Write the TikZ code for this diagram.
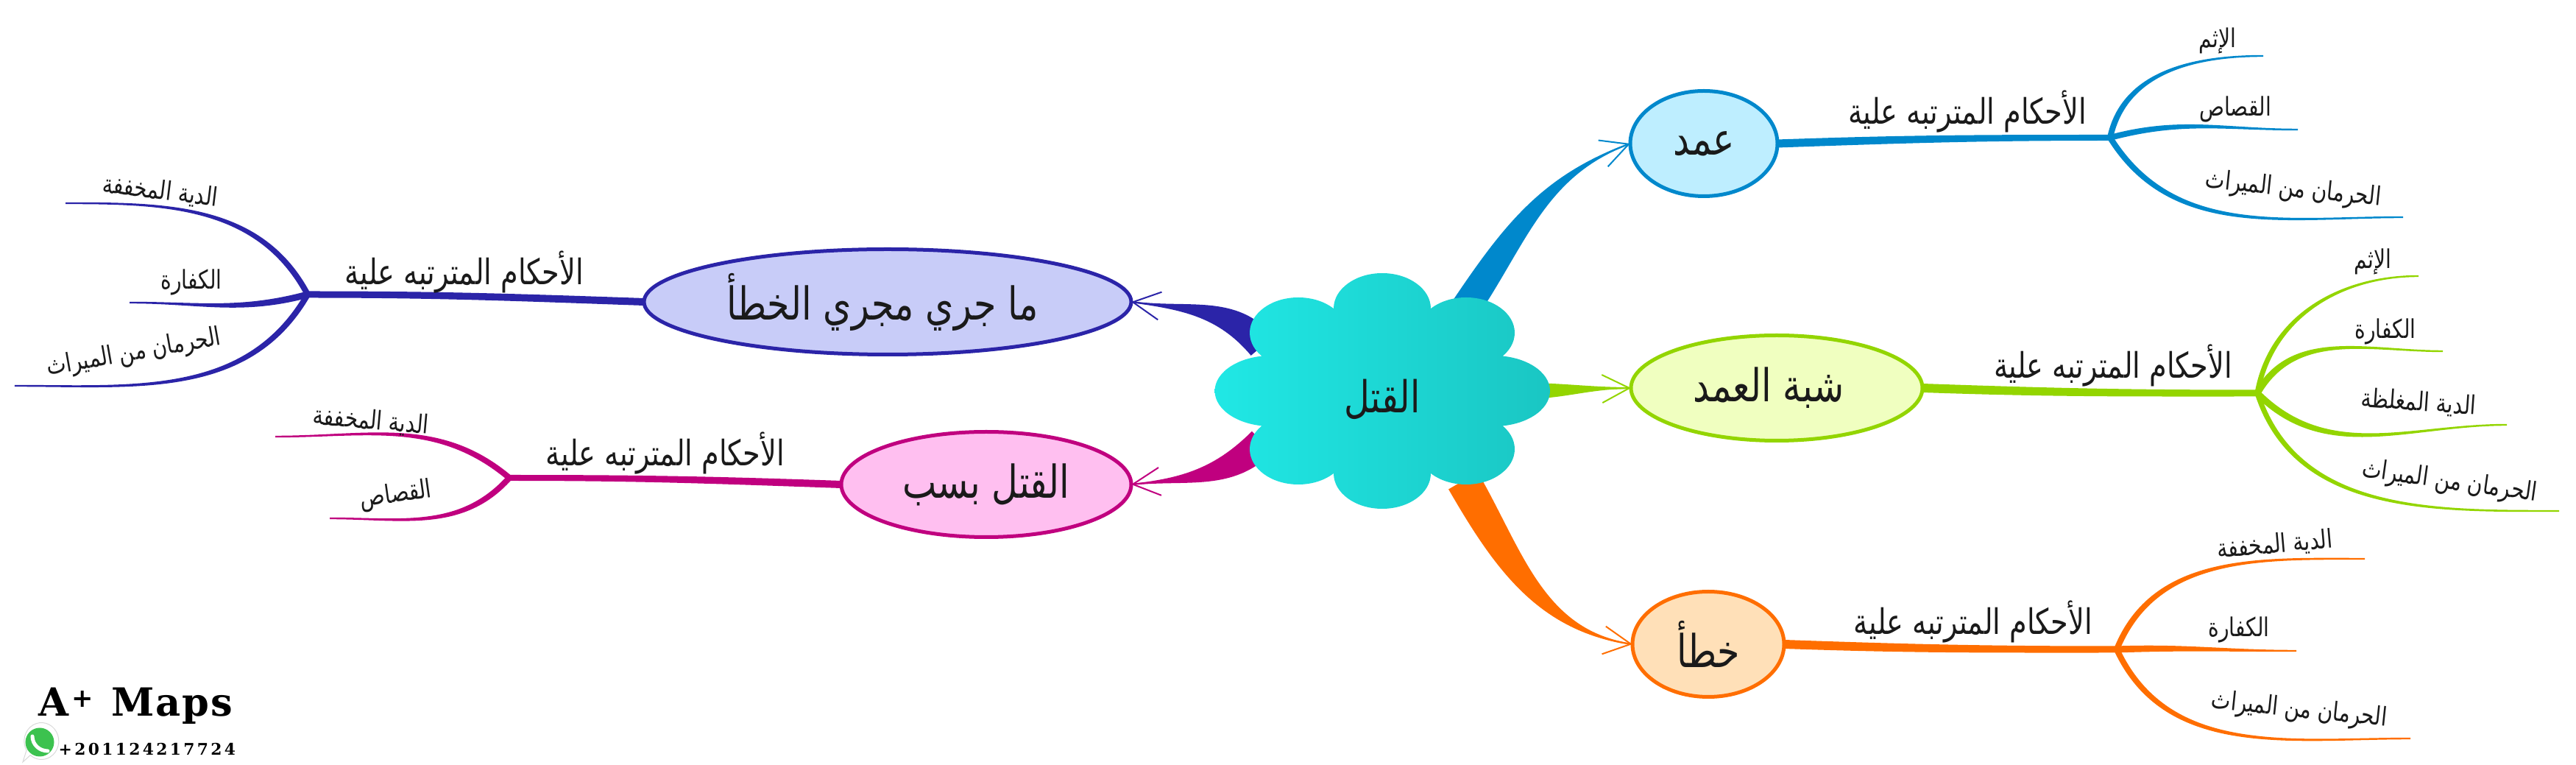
\documentclass[tikz,border=0pt]{standalone}
\usepackage{fontspec}
\usepackage{xcolor}
\usepackage{tikz}
\usetikzlibrary{shapes.geometric,arrows.meta,calc,backgrounds}
\TeXXeTstate=1
\newfontfamily\arabicfont[Script=Arabic,FakeStretch=0.8]{DejaVu Sans}
\newfontfamily\logofont{DejaVu Serif}
\definecolor{inktxt}{HTML}{1A1A1A}
\definecolor{blauk}{HTML}{0088CC}
\definecolor{blauf}{HTML}{BEEEFF}
\definecolor{gruenk}{HTML}{93D500}
\definecolor{gruenf}{HTML}{F0FFC0}
\definecolor{orangek}{HTML}{FF6E00}
\definecolor{orangef}{HTML}{FFE0B8}
\definecolor{navyk}{HTML}{2B24A8}
\definecolor{navyf}{HTML}{C8CCF8}
\definecolor{pinkk}{HTML}{C0007F}
\definecolor{pinkf}{HTML}{FFBFF0}
\definecolor{cloudl}{HTML}{20E8E5}
\definecolor{cloudm}{HTML}{1DDCD9}
\definecolor{cloudr}{HTML}{1AC6C3}
\definecolor{wagreen}{HTML}{3CC24F}
\tikzset{
  topic/.style={ellipse, draw=#1k, fill=#1f, line width=0.05cm, inner sep=0pt, outer sep=0pt, minimum height=1.43cm, align=center, text=inktxt, font=\fontsize{17.5}{17.5}\selectfont},
  rootlabel/.style={inner sep=0pt, text=inktxt, font=\fontsize{17}{17}\selectfont},
  tlabel/.style={inner sep=0pt, text=inktxt, font=\fontsize{13.6}{14}\selectfont},
  llabel/.style={inner sep=0pt, text=inktxt, font=\fontsize{10}{10}\selectfont},
  barb/.style={draw=#1k, line width=0.02cm, -{Straight Barb[length=3.7mm,width=3.8mm]}}
}
\newcommand{\artxt}[1]{{\arabicfont\beginR #1\endR}}
\newcommand{\taper}[7]{\fill[#1] ($(#2)+(#4+90:#6)$) to[out=#4,in=#5] ($(#3)+(#5-90:#7)$) -- ($(#3)+(#5+90:#7)$) to[out=#5,in=#4] ($(#2)+(#4-90:#6)$) -- cycle;}

\begin{document}
\begin{tikzpicture}
\useasboundingbox (0,0) rectangle (35,10.39);

\node[rootlabel] (root) at (18.78,4.97) {\artxt{القتل}};

\node[topic=blau, minimum width=2.0cm] (amd) at ($(root)+(4.37,3.47)$) {\artxt{عمد}};
\node[topic=gruen, minimum width=3.96cm] (shuba) at ($(root)+(5.36,0.15)$) {\artxt{شبة العمد}\hspace*{0.22cm}};
\node[topic=orange, minimum width=2.06cm] (khata) at ($(root)+(4.43,-3.33)$) {\artxt{خطأ}};
\node[topic=navy, minimum width=6.62cm] (majri) at ($(root)+(-6.72,1.32)$) {\artxt{ما جري مجري الخطأ}\hspace*{0.14cm}};
\node[topic=pink, minimum width=3.94cm] (sabab) at ($(root)+(-5.38,-1.16)$) {\artxt{القتل بسب}};

\coordinate (rootamd) at ($(root)+(1.12,1.22)$);
\coordinate (rootshuba) at ($(root)+(1.9,0.11)$);
\coordinate (rootkhata) at ($(root)+(1.1,-1.11)$);
\coordinate (rootmajri) at ($(root)+(-1.63,0.72)$);
\coordinate (rootsabab) at ($(root)+(-1.63,-0.58)$);

% amd
\coordinate (famd) at ($(amd)+(5.52,0.08)$);
\node[tlabel] at ($(famd)+(-1.94,0.35)$) {\artxt{الأحكام المترتبه علية}};
\coordinate (amd1) at ($(famd)+(2.08,1.11)$);
\coordinate (amd2) at ($(famd)+(2.55,0.11)$);
\coordinate (amd3) at ($(famd)+(3.98,-1.08)$);
\node[llabel] at ($(famd)+(1.46,1.32)$) {\artxt{الإثم}};
\node[llabel] at ($(famd)+(1.70,0.39)$) {\artxt{القصاص}};
\node[llabel, rotate=-6] at ($(famd)+(2.49,-0.71)$) {\artxt{الحرمان من الميراث}};

% shuba
\coordinate (fshuba) at ($(shuba)+(6.53,-0.07)$);
\node[tlabel] at ($(fshuba)+(-1.96,0.37)$) {\artxt{الأحكام المترتبه علية}};
\coordinate (shuba1) at ($(fshuba)+(2.19,1.59)$);
\coordinate (shuba2) at ($(fshuba)+(2.52,0.57)$);
\coordinate (shuba3) at ($(fshuba)+(3.39,-0.43)$);
\coordinate (shuba4) at ($(fshuba)+(4.10,-1.60)$);
\node[llabel] at ($(fshuba)+(1.57,1.79)$) {\artxt{الإثم}};
\node[llabel] at ($(fshuba)+(1.74,0.84)$) {\artxt{الكفارة}};
\node[llabel, rotate=-4] at ($(fshuba)+(2.19,-0.13)$) {\artxt{الدية المغلظة}};
\node[llabel, rotate=-8] at ($(fshuba)+(2.61,-1.21)$) {\artxt{الحرمان من الميراث}};

% khata
\coordinate (fkhata) at ($(khata)+(5.55,-0.07)$);
\node[tlabel] at ($(fkhata)+(-1.95,0.37)$) {\artxt{الأحكام المترتبه علية}};
\coordinate (khata1) at ($(fkhata)+(3.37,1.23)$);
\coordinate (khata2) at ($(fkhata)+(2.44,-0.02)$);
\coordinate (khata3) at ($(fkhata)+(3.99,-1.21)$);
\node[llabel, rotate=5] at ($(fkhata)+(2.15,1.42)$) {\artxt{الدية المخففة}};
\node[llabel] at ($(fkhata)+(1.66,0.27)$) {\artxt{الكفارة}};
\node[llabel, rotate=-6] at ($(fkhata)+(2.48,-0.83)$) {\artxt{الحرمان من الميراث}};

% majri
\coordinate (fmajri) at ($(majri)+(-7.88,0.10)$);
\node[tlabel] at ($(fmajri)+(2.13,0.30)$) {\artxt{الأحكام المترتبه علية}};
\coordinate (majri1) at ($(fmajri)+(-3.29,1.24)$);
\coordinate (majri2) at ($(fmajri)+(-2.42,-0.11)$);
\coordinate (majri3) at ($(fmajri)+(-3.98,-1.24)$);
\node[llabel, rotate=-7] at ($(fmajri)+(-2.00,1.40)$) {\artxt{الدية المخففة}};
\node[llabel] at ($(fmajri)+(-1.58,0.17)$) {\artxt{الكفارة}};
\node[llabel, rotate=10] at ($(fmajri)+(-2.36,-0.80)$) {\artxt{الحرمان من الميراث}};

% sabab
\coordinate (fsabab) at ($(sabab)+(-6.48,0.09)$);
\node[tlabel] at ($(fsabab)+(2.12,0.33)$) {\artxt{الأحكام المترتبه علية}};
\coordinate (sabab1) at ($(fsabab)+(-3.18,0.56)$);
\coordinate (sabab2) at ($(fsabab)+(-2.44,-0.55)$);
\node[llabel, rotate=-5] at ($(fsabab)+(-1.88,0.77)$) {\artxt{الدية المخففة}};
\node[llabel, rotate=8] at ($(fsabab)+(-1.54,-0.24)$) {\artxt{القصاص}};

\begin{scope}[on background layer]
\taper{blauk}{rootamd}{amd.west}{56}{200}{0.2}{0.01}
\taper{gruenk}{rootshuba}{shuba.west}{0}{180}{0.11}{0.01}
\taper{orangek}{rootkhata}{khata.west}{-60}{172}{0.23}{0.01}
\taper{navyk}{rootmajri}{majri.east}{130}{-8}{0.2}{0.01}
\taper{pinkk}{rootsabab}{sabab.east}{-135}{6}{0.2}{0.01}
\draw[barb=blau] (rootamd) to[out=56,in=200] (amd.west);
\draw[barb=gruen] (rootshuba) to (shuba.west);
\draw[barb=orange] (rootkhata) to[out=-60,in=172] (khata.west);
\draw[barb=navy] (rootmajri) to[out=130,in=-8] (majri.east);
\draw[barb=pink] (rootsabab) to[out=-135,in=6] (sabab.east);

\taper{blauk}{amd.east}{famd}{2}{180}{0.055}{0.04}
\taper{blauk}{famd}{amd1}{78}{180}{0.04}{0.012}
\taper{blauk}{famd}{amd2}{15}{180}{0.04}{0.012}
\taper{blauk}{famd}{amd3}{-58}{180}{0.04}{0.012}

\taper{gruenk}{shuba.east}{fshuba}{-2}{180}{0.06}{0.045}
\taper{gruenk}{fshuba}{shuba1}{80}{180}{0.035}{0.012}
\taper{gruenk}{fshuba}{shuba2}{60}{180}{0.045}{0.012}
\taper{gruenk}{fshuba}{shuba3}{-45}{180}{0.045}{0.012}
\taper{gruenk}{fshuba}{shuba4}{-72}{180}{0.035}{0.012}

\taper{orangek}{khata.east}{fkhata}{-2}{180}{0.06}{0.045}
\taper{orangek}{fkhata}{khata1}{68}{180}{0.04}{0.012}
\taper{orangek}{fkhata}{khata2}{2}{180}{0.045}{0.012}
\taper{orangek}{fkhata}{khata3}{-65}{180}{0.04}{0.012}

\taper{navyk}{majri.west}{fmajri}{178}{0}{0.05}{0.045}
\taper{navyk}{fmajri}{majri1}{118}{0}{0.04}{0.012}
\taper{navyk}{fmajri}{majri2}{-165}{0}{0.045}{0.012}
\taper{navyk}{fmajri}{majri3}{-120}{0}{0.04}{0.012}

\taper{pinkk}{sabab.west}{fsabab}{178}{0}{0.05}{0.04}
\taper{pinkk}{fsabab}{sabab1}{140}{0}{0.04}{0.012}
\taper{pinkk}{fsabab}{sabab2}{-132}{0}{0.04}{0.012}

\begin{scope}
\clip \foreach \a/\b/\r/\s in {-1.51/0.11/0.765/0.48,1.515/0.11/0.765/0.48,0/1.23/0.66/0.48,0/-1.01/0.66/0.48,-1.14/0.90/0.66/0.48,1.14/0.90/0.66/0.48,-1.14/-0.68/0.66/0.48,1.14/-0.68/0.66/0.48,0/0.11/1.4/0.95} {($(root)+(\a,\b)$) ellipse [x radius=\r, y radius=\s]};
\shade[left color=cloudl, middle color=cloudm, right color=cloudr] ($(root)+(-2.3,-1.7)$) rectangle ($(root)+(2.3,1.9)$);
\end{scope}
\end{scope}

\node[anchor=base west, inner sep=0pt, text=black, font=\logofont\bfseries\fontsize{15}{15}\selectfont] (logo) at (0.52,0.66) {A\hspace{1pt}\raisebox{0.45ex}{\fontsize{10}{10}\selectfont +}\hspace{7pt}M\hspace{0.6pt}a\hspace{0.6pt}p\hspace{0.6pt}s};
\node[anchor=base west, inner sep=0pt, text=black, font=\logofont\bfseries\fontsize{6.2}{7}\selectfont] (phone) at ($(logo.base west)+(0.27,-0.53)$) {+\kern0.95pt 2\kern0.95pt 0\kern0.95pt 1\kern0.95pt 1\kern0.95pt 2\kern0.95pt 4\kern0.95pt 2\kern0.95pt 1\kern0.95pt 7\kern0.95pt 7\kern0.95pt 2\kern0.95pt 4};

\coordinate (wa) at (0.54,0.31);
\fill[white, draw=black!15, line width=0.01cm] (0.31,0.04) -- (0.36,0.2) arc[start angle=210, end angle=-130, x radius=0.235, y radius=0.25] -- cycle;
\fill[wagreen] (wa) circle (0.195);
\draw[white, line width=0.05cm, line cap=round] ($(wa)+(-0.1,0.08)$) to[out=-90,in=180] ($(wa)+(0.11,-0.12)$);
\end{tikzpicture}
\end{document}
